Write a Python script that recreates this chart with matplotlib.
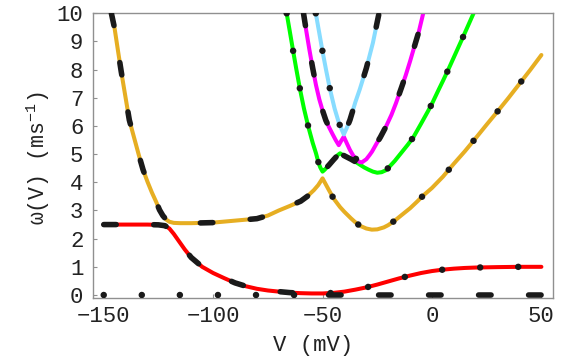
import numpy as np
import matplotlib
matplotlib.use("Agg")
import matplotlib.pyplot as plt

plt.rcParams['font.family'] = ['Liberation Mono', 'DejaVu Sans']
plt.rcParams['mathtext.fontset'] = 'custom'
plt.rcParams['mathtext.rm'] = 'Liberation Mono'
plt.rcParams['mathtext.default'] = 'regular'
plt.rcParams['lines.scale_dashes'] = False

# ---------------- data ----------------
V_red = [-150, -140, -130, -125, -122, -120, -118, -116, -113, -110, -105, -100, -95, -90, -85,
         -80, -75, -70, -65, -60, -55, -50, -45, -40, -35, -30, -25, -20, -15, -10, -5, 0, 5, 10,
         15, 20, 30, 40, 50]
w_red = [2.50, 2.50, 2.50, 2.49, 2.46, 2.36, 2.17, 1.95, 1.62, 1.33, 1.00, 0.78, 0.60, 0.43, 0.31,
         0.22, 0.16, 0.12, 0.085, 0.065, 0.055, 0.055, 0.075, 0.12, 0.19, 0.27, 0.37, 0.48, 0.59,
         0.69, 0.78, 0.85, 0.90, 0.935, 0.96, 0.975, 0.99, 1.0, 1.0]

V_orange = [-146.5, -145, -143.5, -142, -140, -138.3, -136, -134, -132, -130, -128, -126, -124.5,
            -123, -121.5, -120, -118, -115, -110, -100, -90, -80, -75, -70, -65, -60, -57, -54, -52,
            -50, -47.5, -45, -42, -40, -37, -35, -33, -30, -27.5, -25, -22, -20, -17, -14, -10, -7,
            -4, 0, 5, 10, 15, 20, 25, 30, 35, 40, 45, 50]
w_orange = [10, 9.45, 8.68, 7.93, 7.0, 6.21, 5.55, 4.98, 4.44, 4.02, 3.64, 3.3, 3.02, 2.82, 2.68,
            2.60, 2.56, 2.55, 2.55, 2.57, 2.64, 2.71, 2.82, 3.0, 3.16, 3.33, 3.5, 3.72, 3.9, 4.14,
            3.78, 3.43, 3.12, 2.95, 2.72, 2.58, 2.46, 2.36, 2.32, 2.33, 2.40, 2.48, 2.64, 2.83,
            3.08, 3.3, 3.53, 3.8, 4.2, 4.66, 5.1, 5.57, 6.05, 6.52, 7.0, 7.5, 8.0, 8.52]

V_green = [-66.4, -65, -63.4, -62, -60.3, -58.5, -56.5, -54.5, -53, -51.8, -51, -50, -49, -47, -45,
           -43, -42, -41, -39, -37, -35, -33, -31, -29, -27, -25, -23, -21, -19.5, -17, -14, -11,
           -8.5, -5, -2, 0, 3, 5, 7.5, 10, 12.5, 14.6, 17, 19]
w_green = [10, 9.37, 8.64, 8.02, 7.30, 6.62, 5.97, 5.4, 5.03, 4.68, 4.52, 4.38, 4.45, 4.62, 4.8,
           4.97, 5.03, 4.98, 4.9, 4.82, 4.73, 4.63, 4.53, 4.45, 4.38, 4.34, 4.36, 4.43, 4.55, 4.76,
           5.05, 5.34, 5.6, 6.08, 6.5, 6.79, 7.28, 7.6, 8.01, 8.44, 8.87, 9.23, 9.65, 10]

V_magenta = [-58.7, -57.5, -56, -54.5, -53, -51.5, -50, -48.5, -47, -45.5, -44, -42.6, -41.5, -40.3,
             -39, -37.5, -36, -34.3, -33, -32, -30, -28.5, -27.4, -25.3, -23.6, -21, -18.5, -16.5,
             -14, -12, -10, -8.5, -6, -4]
w_magenta = [10, 9.4, 8.7, 8.05, 7.45, 6.95, 6.55, 6.2, 5.95, 5.72, 5.5, 5.32, 5.47, 5.62, 5.4,
             5.15, 4.95, 4.79, 4.72, 4.71, 4.82, 4.97, 5.09, 5.38, 5.6, 5.98, 6.4, 6.8, 7.35, 7.8,
             8.3, 8.7, 9.35, 10]

V_blue = [-53.1, -51.5, -50, -48.3, -46.6, -44.5, -42.5, -41.3, -40.3, -39, -37.5, -35, -33, -30,
          -27, -24.2]
w_blue = [10, 9.3, 8.64, 7.95, 7.30, 6.62, 6.1, 5.88, 5.70, 5.92, 6.21, 6.85, 7.3, 8.05, 8.95, 10]

V_zero = [-150, -50, 50]
w_zero = [0, 0, 0]

# crossing voltages where the asymptotic branches switch curves
V_cross1 = -50
V_cross2 = -42
V_cross3 = -40.3
V_cross4 = -34.3

x_ticks = [-150, -100, -50, 0, 50]
y_ticks = list(range(0, 11))

colors = {'red': '#ff0000', 'orange': '#e6ae22', 'green': '#00ff00',
          'magenta': '#ff00ff', 'blue': '#87dcff'}


def seg(V, w, lo, hi):
    V = np.asarray(V, float)
    w = np.asarray(w, float)
    m = (V >= lo - 1e-9) & (V <= hi + 1e-9)
    return list(V[m]), list(w[m])


def join(*parts):
    xs, ys = [], []
    for px, py in parts:
        xs += px
        ys += py
    return xs, ys


# ---------------- figure ----------------
fig = plt.figure(figsize=(5.81, 3.59), dpi=100)
ax = fig.add_axes([93 / 581, 1 - 297.7 / 359, 460 / 581, 284.4 / 359])

clw = 2.9
for V, w, c in [(V_red, w_red, 'red'), (V_orange, w_orange, 'orange'),
                (V_green, w_green, 'green'), (V_magenta, w_magenta, 'magenta'),
                (V_blue, w_blue, 'blue')]:
    ax.plot(V, w, color=colors[c], lw=clw, solid_capstyle='round', solid_joinstyle='round',
            zorder=2)

inf = 1e9
# dashed branches
D0 = join(seg(V_red, w_red, -inf, V_cross1), seg(V_zero, w_zero, V_cross1, inf))
D1 = join(seg(V_orange, w_orange, -inf, V_cross1), seg(V_green, w_green, V_cross1, V_cross2),
          seg(V_magenta, w_magenta, V_cross2, V_cross3), seg(V_blue, w_blue, V_cross3, inf))
D2 = join(seg(V_magenta, w_magenta, -inf, -42.6), seg(V_green, w_green, V_cross2, -35),
          seg(V_magenta, w_magenta, V_cross4, inf))
# dotted branches
B0 = join(seg(V_zero, w_zero, -inf, V_cross1), seg(V_red, w_red, V_cross1, inf))
B2 = join(seg(V_green, w_green, -inf, V_cross1), seg(V_orange, w_orange, V_cross1, inf))
B3 = join(seg(V_blue, w_blue, -inf, V_cross3), seg(V_magenta, w_magenta, V_cross3, V_cross4),
          seg(V_green, w_green, -33, inf))

black = '#1a1a1a'
for xs, ys in (D0, D1, D2):
    ax.plot(xs, ys, color=black, lw=4.0, linestyle=(0, (9, 27)), dash_capstyle='round',
            dash_joinstyle='round', zorder=3)
for xs, ys in (B0, B2, B3):
    ax.plot(xs, ys, color=black, lw=4.7, linestyle=(0, (0.01, 27.4)), dash_capstyle='round',
            dash_joinstyle='round', zorder=3)

ax.set_xlim(-154.9, 55.3)
ax.set_ylim(-0.096, 10.0)
ax.set_xticks(x_ticks)
ax.set_yticks(y_ticks)
ax.set_xticklabels([str(t).replace('-', '\u2212') for t in x_ticks])
ax.set_yticklabels([str(t) for t in y_ticks])

for s in ax.spines.values():
    s.set_color('#909090')
    s.set_linewidth(1.0)
ax.tick_params(direction='in', length=3, width=0.8, color='#909090', labelsize=16,
               labelcolor='#222222', top=False, right=False)
ax.tick_params(axis='y', pad=7)
ax.tick_params(axis='x', pad=6)

fig.text(313 / 581, 1 - 345 / 359, 'V (mV)', ha='center', va='center', fontsize=16,
         color='#222222')
fig.text(38 / 581, 1 - 158 / 359, '\u03c9(V) (ms$^{-1}$)', ha='center', va='center',
         rotation=90, fontsize=15.5, color='#222222')

fig.savefig('out.png', dpi=100)
